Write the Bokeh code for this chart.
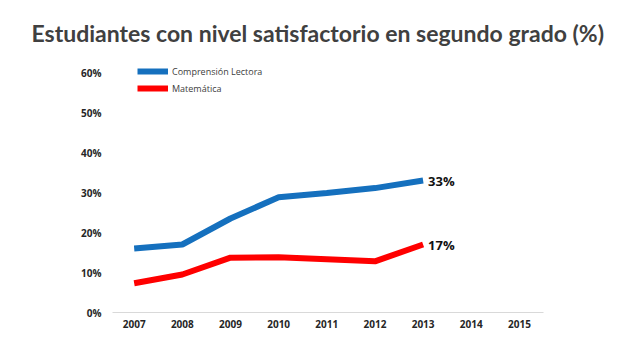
from bokeh.plotting import figure
from bokeh.models import FixedTicker, NumeralTickFormatter, Legend, LegendItem, Range1d, ColumnDataSource
from bokeh.core.properties import value
from bokeh.embed import file_html
from bokeh.resources import INLINE

years = [2007, 2008, 2009, 2010, 2011, 2012, 2013]
lectora = [0.16, 0.17, 0.235, 0.288, 0.299, 0.311, 0.33]
matematica = [0.073, 0.095, 0.137, 0.138, 0.133, 0.128, 0.17]
tick_years = [2007, 2008, 2009, 2010, 2011, 2012, 2013, 2014, 2015]
y_ticks = [0, 0.1, 0.2, 0.3, 0.4, 0.5, 0.6]
series_names = ["Comprensión Lectora", "Matemática"]
end_labels = ["33%", "17%"]
title_text = "Estudiantes con nivel satisfactorio en segundo grado (%)"

BLUE = "#1570BE"
RED = "#FF0000"
FONT = "Open Sans"

p = figure(width=632, height=353, output_backend="svg", toolbar_location=None,
           x_range=Range1d(2006.55, 2015.5), y_range=Range1d(0, 0.62),
           min_border_left=112, min_border_right=89, min_border_top=64, min_border_bottom=41,
           outline_line_color=None)

p.title.text = title_text
p.title.align = "left"
p.title.offset = -81
p.title.text_font = "Lato"
p.title.text_font_size = "23px"
p.title.text_font_style = "bold"
p.title.text_color = "#404040"
p.title.standoff = 31
p.title.vertical_align = "top"
p.title.text_line_height = 1.0

p.xgrid.grid_line_color = None
p.ygrid.grid_line_color = None

p.xaxis.ticker = FixedTicker(ticks=tick_years)
p.xaxis.axis_line_color = "#D9D9D9"
p.xaxis.axis_line_width = 1
p.xaxis.major_tick_line_color = None
p.xaxis.major_tick_out = 0
p.xaxis.major_tick_in = 0
p.xaxis.minor_tick_line_color = None
p.xaxis.major_label_text_font = FONT
p.xaxis.major_label_text_font_size = "10px"
p.xaxis.major_label_text_font_style = "bold"
p.xaxis.major_label_text_color = "#262626"
p.xaxis.major_label_standoff = 7

p.yaxis.ticker = FixedTicker(ticks=y_ticks)
p.yaxis.formatter = NumeralTickFormatter(format="0%")
p.yaxis.axis_line_color = None
p.yaxis.major_tick_line_color = None
p.yaxis.major_tick_out = 0
p.yaxis.major_tick_in = 0
p.yaxis.minor_tick_line_color = None
p.yaxis.major_label_text_font = FONT
p.yaxis.major_label_text_font_size = "10px"
p.yaxis.major_label_text_font_style = "bold"
p.yaxis.major_label_text_color = "#262626"
p.yaxis.major_label_standoff = 11

r1 = p.line(years, lectora, line_color=BLUE, line_width=6)
r2 = p.line(years, matematica, line_color=RED, line_width=6)

src = ColumnDataSource(dict(x=[years[-1], years[-1]], y=[lectora[-1], matematica[-1]], t=end_labels))
p.text(x="x", y="y", text="t", source=src, x_offset=5, text_baseline="middle",
       text_font=value(FONT), text_font_size="13px", text_font_style="bold", text_color="#111111")

legend = Legend(items=[LegendItem(label=series_names[0], renderers=[r1]),
                       LegendItem(label=series_names[1], renderers=[r2])],
                location=(25, 217), orientation="vertical",
                padding=0, margin=0, spacing=3, glyph_width=31, glyph_height=14,
                label_height=14, label_standoff=4,
                label_text_font=FONT, label_text_font_size="9px", label_text_color="#404040",
                border_line_color=None, background_fill_alpha=0)
p.add_layout(legend)

open("out.html", "w").write(file_html(p, INLINE))
